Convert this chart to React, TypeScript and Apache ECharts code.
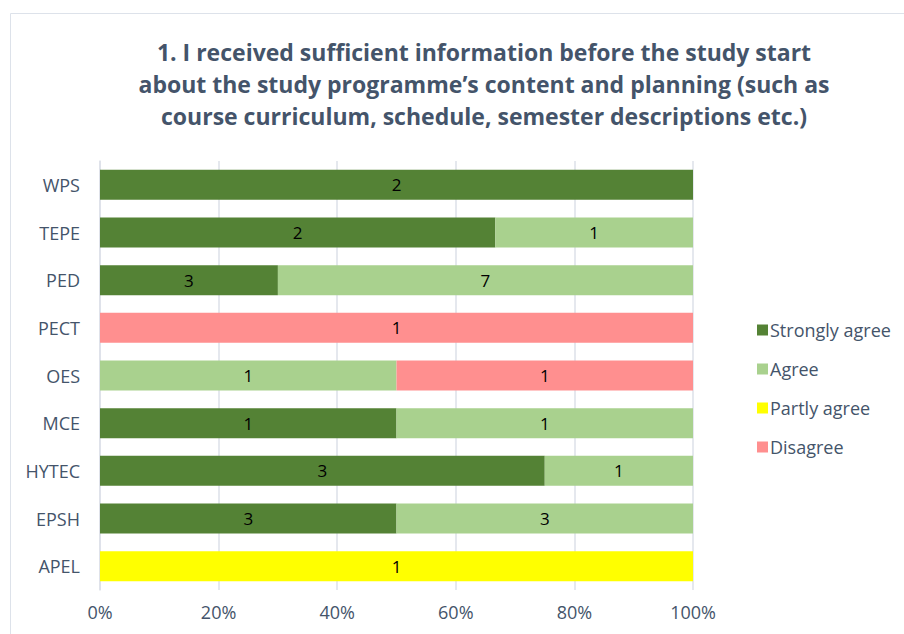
import React, { useEffect, useRef } from "react";
import * as echarts from "echarts";

const titleText =
  "1. I received sufficient information before the study start\nabout the study programme’s content and planning (such as\ncourse curriculum, schedule, semester descriptions etc.)";

const categories = ["APEL", "EPSH", "HYTEC", "MCE", "OES", "PECT", "PED", "TEPE", "WPS"];
const stronglyAgree = [0, 3, 3, 1, 0, 0, 3, 2, 2];
const agree = [0, 3, 1, 1, 1, 0, 7, 1, 0];
const partlyAgree = [1, 0, 0, 0, 0, 0, 0, 0, 0];
const disagree = [0, 0, 0, 0, 1, 1, 0, 0, 0];
const xTicks = [0, 20, 40, 60, 80, 100];

const seriesDefs = [
  { name: "Strongly agree", values: stronglyAgree, color: "#548235" },
  { name: "Agree", values: agree, color: "#A9D18E" },
  { name: "Partly agree", values: partlyAgree, color: "#FFFF00" },
  { name: "Disagree", values: disagree, color: "#FF8F8F" },
];

export default function App() {
  const ref = useRef<HTMLDivElement>(null);
  useEffect(() => {
    if (!ref.current) return;
    const chart = echarts.init(ref.current, undefined, { renderer: "svg" });
    const totals = categories.map((_, i) =>
      seriesDefs.reduce((s, d) => s + d.values[i], 0)
    );
    const font = "'Open Sans', 'Noto Sans', sans-serif";
    chart.setOption({
      animation: false,
      backgroundColor: "#ffffff",
      textStyle: { fontFamily: font },
      graphic: [
        {
          type: "rect",
          shape: { x: 10.5, y: 13.5, width: 920, height: 640 },
          style: { fill: "none", stroke: "#DDE2EA", lineWidth: 1 },
          silent: true,
        },
      ],
      title: {
        text: titleText,
        left: 479,
        textAlign: "center",
        top: 31,
        textStyle: {
          fontFamily: font,
          fontSize: 23,
          fontWeight: "bold",
          color: "#44546A",
          lineHeight: 32,
        },
      },
      legend: {
        orient: "vertical",
        left: 752,
        top: 316,
        itemWidth: 11,
        itemHeight: 11,
        itemGap: 21,
        icon: "rect",
        textStyle: { fontFamily: font, fontSize: 18, color: "#44546A", padding: [0, 0, 0, -3] },
        data: seriesDefs.map((d) => d.name),
      },
      grid: { left: 100, right: 211, top: 161, bottom: 44, containLabel: false },
      xAxis: {
        type: "value",
        min: 0,
        max: 100,
        interval: 20,
        axisLine: { show: false },
        axisTick: { show: false },
        splitLine: { lineStyle: { color: "#DCE1E8", width: 1.5 } },
        axisLabel: {
          fontFamily: font,
          fontSize: 18,
          color: "#44546A",
          margin: 13,
          formatter: (v: number) => (xTicks.includes(v) ? v + "%" : ""),
        },
      },
      yAxis: {
        type: "category",
        data: categories,
        axisLine: { show: true, lineStyle: { color: "#DCE1E8", width: 1.5 } },
        axisTick: { show: false },
        axisLabel: { fontFamily: font, fontSize: 18, color: "#44546A", margin: 20 },
      },
      series: seriesDefs.map((d) => ({
        name: d.name,
        type: "bar",
        stack: "total",
        barWidth: "63%",
        itemStyle: { color: d.color },
        label: {
          show: true,
          position: "inside",
          fontFamily: font,
          fontSize: 17,
          color: "#000000",
          formatter: (p: any) => (p.data.count ? String(p.data.count) : ""),
        },
        data: d.values.map((v, i) => ({
          value: totals[i] ? (v / totals[i]) * 100 : 0,
          count: v,
        })),
      })),
    });
    return () => chart.dispose();
  }, []);
  return (
    <div
      ref={ref}
      style={{ position: "absolute", left: 0, top: 0, width: 904, height: 634 }}
    />
  );
}
